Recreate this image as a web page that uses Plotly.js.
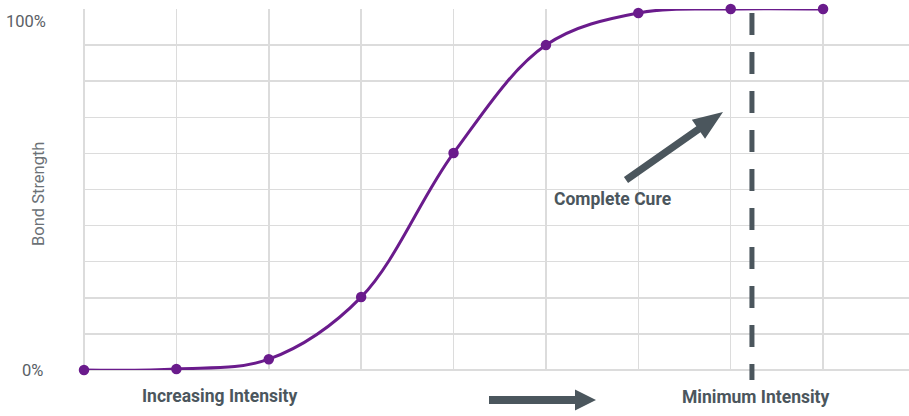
<!DOCTYPE html>
<html>
<head>
<meta charset="utf-8">
<script src="https://cdn.plot.ly/plotly-3.0.1.min.js"></script>
<style>html,body{margin:0;padding:0;background:#fff;}#chart{width:909px;height:416px;}</style>
</head>
<body>
<div id="chart"></div>
<script>
// Data
const intensitySteps = [0, 1, 2, 3, 4, 5, 6, 7, 8];
const bondStrength = [0, 0.3, 3.0, 20.2, 60.1, 90.0, 98.9, 100, 100];
const yTickLabels = ['0%', '100%'];
const minimumIntensityX = 7.23;

const W = 909, H = 416;
const M = {l: 84, r: 0, t: 9, b: 46};
const pw = W - M.l - M.r, ph = H - M.t - M.b;
function px(x){ return (x - M.l) / pw; }
function py(y){ return (H - M.b - y) / ph; }

function arrowPath(x0, y0, x1, y1, shaftHalf, headLen, headHalf){
  const dx = x1 - x0, dy = y1 - y0, L = Math.hypot(dx, dy);
  const ux = dx / L, uy = dy / L, nx = -uy, ny = ux;
  const bx = x1 - ux * headLen, by = y1 - uy * headLen;
  const pts = [
    [x0 + nx * shaftHalf, y0 + ny * shaftHalf],
    [bx + nx * shaftHalf, by + ny * shaftHalf],
    [bx + nx * headHalf, by + ny * headHalf],
    [x1, y1],
    [bx - nx * headHalf, by - ny * headHalf],
    [bx - nx * shaftHalf, by - ny * shaftHalf],
    [x0 - nx * shaftHalf, y0 - ny * shaftHalf]
  ];
  return 'M' + pts.map(p => px(p[0]).toFixed(5) + ',' + py(p[1]).toFixed(5)).join(' L') + ' Z';
}

const dark = '#4b565d';
const purple = '#6a1b8c';
const grid = '#dcdcdc';
const font = 'Roboto, "Open Sans", sans-serif';

const trace = {
  x: intensitySteps,
  y: bondStrength,
  type: 'scatter',
  mode: 'lines+markers',
  line: {color: purple, width: 3, shape: 'spline', smoothing: 1},
  marker: {color: purple, size: 10.5},
  cliponaxis: false,
  hoverinfo: 'skip'
};

const layout = {
  width: W, height: H,
  margin: M,
  paper_bgcolor: '#fff', plot_bgcolor: '#fff',
  showlegend: false,
  font: {family: font},
  xaxis: {range: [0, 8.93], dtick: 1, tick0: 0, showticklabels: false, ticks: '',
          showgrid: true, gridcolor: grid, gridwidth: 1.5,
          zeroline: true, zerolinecolor: grid, zerolinewidth: 1.5, showline: false, fixedrange: true},
  yaxis: {range: [0, 100], dtick: 10, tick0: 0, showticklabels: false, ticks: '',
          showgrid: true, gridcolor: grid, gridwidth: 1.5,
          zeroline: true, zerolinecolor: grid, zerolinewidth: 1.5, showline: false, fixedrange: true},
  shapes: [
    {type: 'line', xref: 'x', yref: 'paper', x0: minimumIntensityX, x1: minimumIntensityX,
     y0: py(13), y1: py(380), layer: 'above',
     line: {color: dark, width: 5, dash: '22px,17px'}},
    {type: 'path', xref: 'paper', yref: 'paper', layer: 'above',
     path: arrowPath(626, 180, 723, 112, 3.6, 30, 11.5), fillcolor: dark, line: {width: 0}},
    {type: 'path', xref: 'paper', yref: 'paper', layer: 'above',
     path: arrowPath(489, 400, 596, 400, 4, 21, 10.5), fillcolor: dark, line: {width: 0}}
  ],
  annotations: [
    {xref: 'paper', yref: 'paper', x: px(48), y: py(22), xanchor: 'right', yanchor: 'middle',
     text: yTickLabels[1], showarrow: false, font: {size: 16.5, color: '#5a6066', family: font}},
    {xref: 'paper', yref: 'paper', x: px(45), y: py(370), xanchor: 'right', yanchor: 'middle',
     text: yTickLabels[0], showarrow: false, font: {size: 16.5, color: '#5a6066', family: font}},
    {xref: 'paper', yref: 'paper', x: px(38), y: py(194), xanchor: 'center', yanchor: 'middle',
     text: 'Bond Strength', textangle: -90, showarrow: false, font: {size: 16.5, color: '#6b7176', family: font}},
    {xref: 'paper', yref: 'paper', x: px(220), y: py(396), xanchor: 'center', yanchor: 'middle',
     text: '<b>Increasing Intensity</b>', showarrow: false, font: {size: 17.5, color: dark, family: font}},
    {xref: 'paper', yref: 'paper', x: px(756), y: py(397), xanchor: 'center', yanchor: 'middle',
     text: '<b>Minimum Intensity</b>', showarrow: false, font: {size: 17.5, color: dark, family: font}},
    {xref: 'paper', yref: 'paper', x: px(612), y: py(199), xanchor: 'center', yanchor: 'middle',
     text: '<b>Complete Cure</b>', showarrow: false, font: {size: 17.5, color: dark, family: font}}
  ]
};

Plotly.newPlot('chart', [trace], layout, {displayModeBar: false, staticPlot: true});
</script>
</body>
</html>
